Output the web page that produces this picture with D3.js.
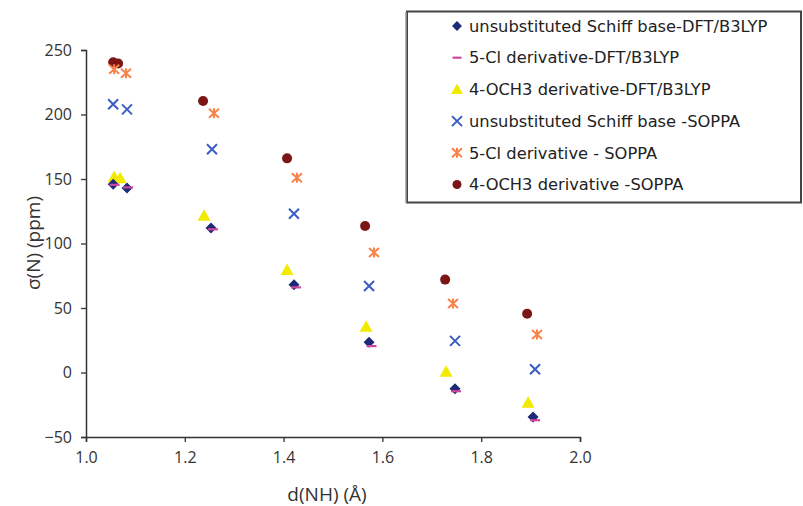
<!DOCTYPE html>
<html><head><meta charset="utf-8">
<script src="https://cdn.jsdelivr.net/npm/d3@7"></script>
<style>body{margin:0;background:#fff}</style>
</head><body><svg id="c" width="803" height="506"></svg>
<script>
const seriesNames = ["unsubstituted Schiff base-DFT/B3LYP","5-Cl derivative-DFT/B3LYP","4-OCH3 derivative-DFT/B3LYP","unsubstituted Schiff base -SOPPA","5-Cl derivative - SOPPA","4-OCH3 derivative -SOPPA"];
const unsubDFT_x = [1.055,1.083,1.253,1.421,1.573,1.747,1.905];
const unsubDFT_y = [146,143,112,68,23.5,-12.5,-34.5];
const clDFT_x = [1.058,1.085,1.257,1.425,1.578,1.749,1.909];
const clDFT_y = [145.5,143.5,111,66,20.5,-14.5,-37];
const ochDFT_x = [1.057,1.069,1.239,1.407,1.567,1.729,1.895];
const ochDFT_y = [151.5,150.5,121.5,79.5,35.5,0.5,-23.5];
const unsubSOP_x = [1.055,1.083,1.255,1.421,1.573,1.747,1.909];
const unsubSOP_y = [208,204,173,123,67,24.5,2.5];
const clSOP_x = [1.057,1.081,1.259,1.427,1.583,1.743,1.913];
const clSOP_y = [235,232,201,151,93,53.5,29.5];
const ochSOP_x = [1.055,1.065,1.237,1.407,1.565,1.727,1.893];
const ochSOP_y = [240.5,239.5,210.5,166,113.5,72,45.5];
const xTicks = [1.0,1.2,1.4,1.6,1.8,2.0];
const yTicks = [-50,0,50,100,150,200,250];
const xTitle = "d(NH) (Å)";
const yTitle = "σ(N) (ppm)";

const series = [
  {name:seriesNames[0], xs:unsubDFT_x, ys:unsubDFT_y, shape:"diamond", color:"#1c2a78"},
  {name:seriesNames[1], xs:clDFT_x, ys:clDFT_y, shape:"dash", color:"#d0469e"},
  {name:seriesNames[2], xs:ochDFT_x, ys:ochDFT_y, shape:"triangle", color:"#f2ea00"},
  {name:seriesNames[3], xs:unsubSOP_x, ys:unsubSOP_y, shape:"x", color:"#3a5cc4"},
  {name:seriesNames[4], xs:clSOP_x, ys:clSOP_y, shape:"star", color:"#f9824a"},
  {name:seriesNames[5], xs:ochSOP_x, ys:ochSOP_y, shape:"circle", color:"#7c1616"}
];
const svg = d3.select("#c");
const x = d3.scaleLinear().domain([1.0,2.0]).range([86,580]);
const y = d3.scaleLinear().domain([-50,250]).range([437,50]);

const xAxis = svg.append("g").attr("transform","translate(0,437)")
  .call(d3.axisBottom(x).tickValues(xTicks).tickFormat(d3.format(".1f")).tickSizeOuter(0).tickSize(5).tickPadding(10));
const yAxis = svg.append("g").attr("transform","translate(86,0)")
  .call(d3.axisLeft(y).tickValues(yTicks).tickSizeOuter(0).tickSize(5).tickPadding(9));
[xAxis,yAxis].forEach(g=>{
  g.select(".domain").attr("stroke","#333").attr("stroke-width",1.5);
  g.selectAll(".tick line").attr("stroke","#333").attr("stroke-width",1.3);
  g.selectAll(".tick text").attr("fill","#333").style("font-family","'Open Sans'").style("font-size","16px");
});
svg.append("text").attr("x",327).attr("y",501).attr("text-anchor","middle")
  .style("font-family","'Open Sans'").style("font-size","19px").attr("fill","#333").text(xTitle);
svg.append("text").attr("transform","translate(40,243) rotate(-90)").attr("text-anchor","middle")
  .style("font-family","'Open Sans'").style("font-size","19px").attr("fill","#333").text(yTitle);

function drawMarker(g, shape, color, s){
  s = s||1;
  if(shape==="diamond") g.append("path").attr("d",`M0,${-5.5*s}L${5.5*s},0L0,${5.5*s}L${-5.5*s},0Z`).attr("fill",color);
  else if(shape==="dash") g.append("line").attr("x1",-5*s).attr("x2",5*s).attr("stroke",color).attr("stroke-width",2.2);
  else if(shape==="triangle") g.append("path").attr("d",`M0,${-6.5*s}L${6.5*s},${5*s}L${-6.5*s},${5*s}Z`).attr("fill",color);
  else if(shape==="x") g.append("path").attr("d",`M-5,-5L5,5M-5,5L5,-5`).attr("stroke",color).attr("stroke-width",2).attr("fill","none");
  else if(shape==="star") g.append("path").attr("d",`M-5,-4.5L5,4.5M-5,4.5L5,-4.5M0,-5L0,5`).attr("stroke",color).attr("stroke-width",2).attr("fill","none");
  else if(shape==="circle") g.append("circle").attr("r",5*s).attr("fill",color);
}
const order = [5,4,3,2,0,1];
order.forEach(i=>{
  const s = series[i];
  const g = svg.append("g");
  s.xs.forEach((xv,j)=>{
    const m = g.append("g").attr("transform",`translate(${x(xv)},${y(s.ys[j])})`);
    drawMarker(m, s.shape, s.color);
  });
});

// legend
const lg = svg.append("g");
lg.append("rect").attr("x",407).attr("y",11.5).attr("width",394).attr("height",191)
  .attr("fill","#fff").attr("stroke","#444").attr("stroke-width",2);
lg.append("line").attr("x1",406).attr("x2",406).attr("y1",12).attr("y2",203).attr("stroke","#999").attr("stroke-width",1.5);
series.forEach((s,i)=>{
  const cy = 26 + i*31.7;
  const m = lg.append("g").attr("transform",`translate(457,${cy})`);
  drawMarker(m, s.shape, s.color, 0.9);
  lg.append("text").attr("x",469).attr("y",cy).attr("dy","0.35em")
    .style("font-family","'DejaVu Sans'").style("font-size","16.3px").attr("fill","#222").text(s.name);
});
</script></body></html>
